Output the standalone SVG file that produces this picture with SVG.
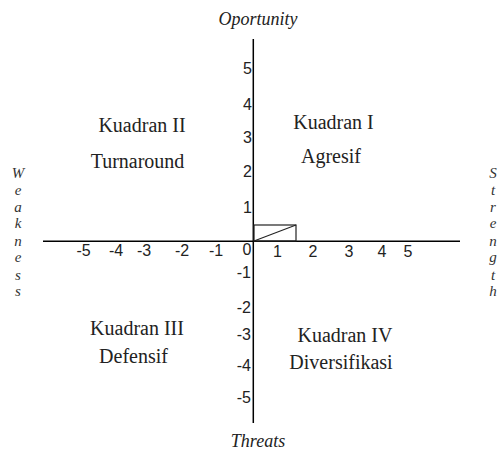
<svg xmlns="http://www.w3.org/2000/svg" width="504" height="450" viewBox="0 0 504 450">
<style>
.ax{stroke:#000;stroke-width:1.5;fill:none}
.bx{stroke:#222;stroke-width:1.2;fill:none}
.num{font-family:"Liberation Sans",Arial,sans-serif;font-size:16px;fill:#222}
.q{font-family:"Liberation Serif","Times New Roman",serif;font-size:20px;fill:#222;text-anchor:middle}
.it{font-family:"Liberation Serif","Times New Roman",serif;font-style:italic;font-size:18px;fill:#222;text-anchor:middle}
.lt{font-family:"Liberation Serif","Times New Roman",serif;font-style:italic;font-size:15px;fill:#333;text-anchor:middle}
</style>
<rect width="504" height="450" fill="#fff"/>
<g id="connectors">
<line class="ax" x1="253.3" y1="39" x2="253.3" y2="423"/>
<line class="ax" x1="43" y1="241.3" x2="460" y2="241.3"/>
<rect class="bx" x="254" y="225" width="42" height="16"/>
<line class="bx" x1="254" y1="241" x2="296" y2="225"/>
</g>
<g id="yticks" class="num" text-anchor="end">
<text x="252" y="74">5</text>
<text x="252" y="110">4</text>
<text x="252" y="143">3</text>
<text x="252" y="177">2</text>
<text x="252" y="213">1</text>
<text x="251" y="278">-1</text>
<text x="251" y="313">-2</text>
<text x="251" y="340">-3</text>
<text x="251" y="371">-4</text>
<text x="251" y="403">-5</text>
</g>
<g id="xticks" class="num" text-anchor="middle">
<text x="83.5" y="256">-5</text>
<text x="116" y="256">-4</text>
<text x="144" y="256">-3</text>
<text x="182" y="256">-2</text>
<text x="216" y="256">-1</text>
<text x="247" y="255">0</text>
<text x="277.5" y="257">1</text>
<text x="313" y="257">2</text>
<text x="349" y="257">3</text>
<text x="382" y="257">4</text>
<text x="408" y="257">5</text>
</g>
<g id="axis-labels">
<text class="it" x="258" y="25">Oportunity</text>
<text class="it" x="258" y="447">Threats</text>
</g>
<g id="weakness" class="lt">
<text x="18" y="178">W</text>
<text x="18" y="195">e</text>
<text x="18" y="212">a</text>
<text x="18" y="228">k</text>
<text x="18" y="246">n</text>
<text x="18" y="262">e</text>
<text x="18" y="280">s</text>
<text x="18" y="296">s</text>
</g>
<g id="strength" class="lt">
<text x="493" y="178">S</text>
<text x="493" y="195">t</text>
<text x="493" y="212">r</text>
<text x="493" y="228">e</text>
<text x="493" y="246">n</text>
<text x="493" y="262">g</text>
<text x="493" y="280">t</text>
<text x="493" y="296">h</text>
</g>
<g id="q1">
<text class="q" x="333.5" y="129">Kuadran I</text>
<text class="q" x="331" y="163">Agresif</text>
</g>
<g id="q2">
<text class="q" x="142" y="132">Kuadran II</text>
<text class="q" x="137.5" y="168">Turnaround</text>
</g>
<g id="q3">
<text class="q" x="137" y="335">Kuadran III</text>
<text class="q" x="133.5" y="363">Defensif</text>
</g>
<g id="q4">
<text class="q" x="345" y="342">Kuadran IV</text>
<text class="q" x="341" y="369">Diversifikasi</text>
</g>
</svg>
